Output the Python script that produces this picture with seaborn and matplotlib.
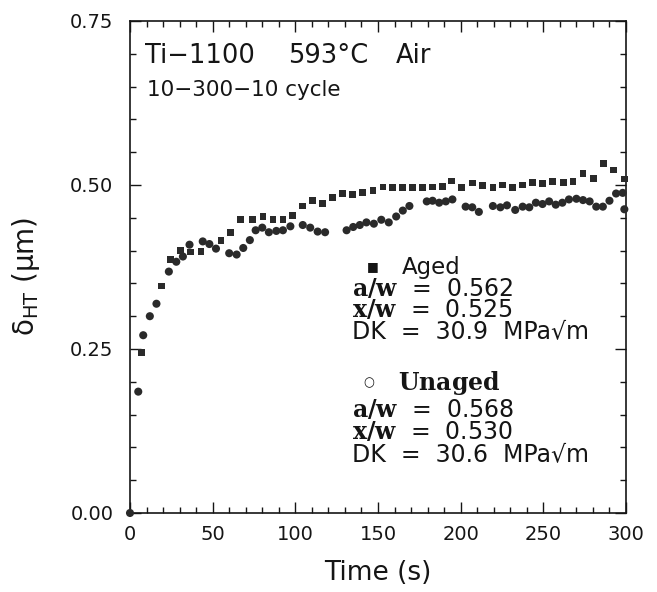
import matplotlib
matplotlib.use('Agg')
import matplotlib.pyplot as plt
from matplotlib.ticker import MultipleLocator, FormatStrFormatter
import seaborn as sns
import pandas as pd

# 데이터
aged_t = [7, 19, 24.5, 30.5, 36.5, 43, 55, 61, 67, 74, 80.5, 86.5, 92.5, 98.5,
          104.5, 110.5, 116.5, 122.5, 128.5, 134.5, 140.5, 147, 153, 159, 165,
          171, 177, 183, 189, 194.5, 200.5, 207, 213, 219.5, 225.5, 231.5,
          237.5, 243.5, 249.5, 255.5, 262, 268, 274, 280.5, 286.5, 292.5, 299]
aged_d = [0.245, 0.346, 0.386, 0.400, 0.398, 0.399, 0.416, 0.428, 0.448, 0.447,
          0.452, 0.447, 0.447, 0.453, 0.468, 0.476, 0.472, 0.481, 0.487, 0.486,
          0.489, 0.492, 0.497, 0.496, 0.496, 0.496, 0.496, 0.497, 0.498, 0.506,
          0.496, 0.503, 0.499, 0.496, 0.500, 0.496, 0.500, 0.504, 0.502, 0.505,
          0.504, 0.505, 0.517, 0.510, 0.533, 0.523, 0.509]

unaged_t = [0, 5, 8, 12, 16, 23.5, 28, 32, 36, 44, 48, 52, 60, 64.5, 68.5, 72.5,
            76, 80, 84, 88.5, 92.5, 97, 104.5, 109, 113.5, 118, 131, 135, 139,
            143, 147.5, 152, 156.5, 161, 165, 169, 179.5, 183, 187, 191, 195,
            203, 207, 211, 219.5, 224, 228, 233, 237.5, 241.5, 245.5, 249.5,
            253.5, 257.5, 261.5, 265.5, 270, 274, 278, 282, 286, 290, 294, 298, 299]
unaged_d = [0, 0.185, 0.271, 0.300, 0.319, 0.368, 0.383, 0.391, 0.409, 0.414,
            0.410, 0.403, 0.396, 0.394, 0.404, 0.416, 0.431, 0.435, 0.428, 0.430,
            0.431, 0.437, 0.439, 0.435, 0.429, 0.428, 0.431, 0.436, 0.439, 0.443,
            0.441, 0.447, 0.443, 0.452, 0.461, 0.468, 0.475, 0.476, 0.473, 0.475,
            0.478, 0.467, 0.466, 0.459, 0.468, 0.466, 0.469, 0.462, 0.467, 0.466,
            0.473, 0.471, 0.475, 0.470, 0.473, 0.478, 0.479, 0.477, 0.475, 0.467,
            0.467, 0.476, 0.487, 0.488, 0.463]

aged_lines = ["$\\mathbf{a/w}$  =  0.562", "$\\mathbf{x/w}$  =  0.525",
              "DK  =  30.9  MPa√m"]
unaged_lines = ["$\\mathbf{a/w}$  =  0.568", "$\\mathbf{x/w}$  =  0.530",
                "DK  =  30.6  MPa√m"]

aged = pd.DataFrame({'t': aged_t, 'd': aged_d})
unaged = pd.DataFrame({'t': unaged_t, 'd': unaged_d})

sns.set_style('ticks')
plt.rcParams['font.family'] = ['DejaVu Sans']
plt.rcParams['mathtext.fontset'] = 'custom'
plt.rcParams['mathtext.rm'] = 'DejaVu Sans'
plt.rcParams['mathtext.it'] = 'DejaVu Sans:italic'
plt.rcParams['mathtext.bf'] = 'DejaVu Serif:bold'

ink = '#151515'
fig = plt.figure(figsize=(6.57, 5.92), dpi=100)
ax = fig.add_axes([130 / 657, 79 / 592, 496 / 657, 492 / 592])

sns.scatterplot(data=aged, x='t', y='d', marker='s', s=24, color='#2a2a2a',
                edgecolor='none', ax=ax, clip_on=False, zorder=3)
sns.scatterplot(data=unaged, x='t', y='d', marker='o', s=34, color='#2a2a2a',
                edgecolor='none', ax=ax, clip_on=False, zorder=3)

ax.set_xlim(0, 300)
ax.set_ylim(0, 0.75)
ax.xaxis.set_major_locator(MultipleLocator(50))
ax.xaxis.set_minor_locator(MultipleLocator(10))
ax.yaxis.set_major_locator(MultipleLocator(0.25))
ax.yaxis.set_minor_locator(MultipleLocator(0.05))
ax.yaxis.set_major_formatter(FormatStrFormatter('%.2f'))
ax.tick_params(which='both', direction='in', top=True, right=True,
               color=ink, width=1.0)
ax.tick_params(which='major', length=8, labelsize=14, labelcolor=ink)
ax.tick_params(axis='y', which='major', pad=12)
ax.tick_params(axis='x', which='major', pad=9)
ax.tick_params(which='minor', length=4.5)
for sp in ax.spines.values():
    sp.set_linewidth(1.2)
    sp.set_color(ink)

ax.set_xlabel('Time (s)', fontsize=19, color=ink)
ax.xaxis.set_label_coords(0.5, -0.095)
ax.set_ylabel('δ$_{\\mathrm{HT}}$ (μm)', fontsize=20, color=ink)
ax.yaxis.set_label_coords(-0.178, 0.48)

# 제목 텍스트
ax.text(9, 0.686, 'Ti−1100', fontsize=18.5, color=ink, va='baseline')
ax.text(95.5, 0.686, '593°C', fontsize=18.5, color=ink, va='baseline')
ax.text(161, 0.686, 'Air', fontsize=18.5, color=ink, va='baseline')
ax.text(10.5, 0.635, '10−300−10 cycle', fontsize=15.5, color=ink, va='baseline')

# 범례 텍스트 (블록별로 한 텍스트)
ax.text(147, 0.375, '■', fontsize=9, color=ink, ha='center', va='center')
ax.text(164.5, 0.365, 'Aged', fontsize=16.5, color=ink, va='baseline')
ax.text(134.3, 0.267, '\n'.join(aged_lines), fontsize=17, color=ink,
        va='baseline', linespacing=0.85)

ax.text(144.6, 0.198, '○', fontsize=9, color=ink, ha='center', va='center')
ax.text(162, 0.1875, '$\\mathbf{Unaged}$', fontsize=17, color=ink, va='baseline')
ax.text(134.3, 0.079, '\n'.join(unaged_lines), fontsize=17, color=ink,
        va='baseline', linespacing=0.9)

fig.savefig('out.png', dpi=100)
